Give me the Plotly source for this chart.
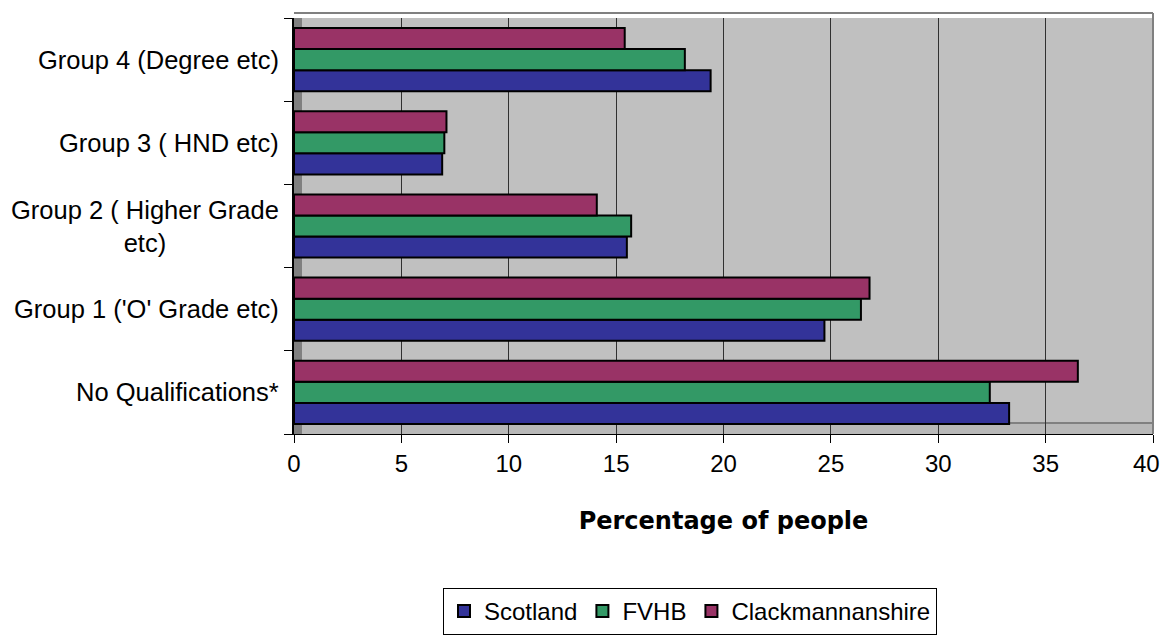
import plotly.graph_objects as go

categories = ["No Qualifications*", "Group 1 ('O' Grade etc)", "Group 2 ( Higher Grade<br>etc)",
              "Group 3 ( HND etc)", "Group 4 (Degree etc)"]
scotland = [33.3, 24.7, 15.5, 6.9, 19.4]
fvhb = [32.4, 26.4, 15.7, 7.0, 18.2]
clack = [36.5, 26.8, 14.1, 7.1, 15.4]
series_names = ["Scotland", "FVHB", "Clackmannanshire"]
series_colors = ["#333399", "#339966", "#993366"]
x_ticks = [0, 5, 10, 15, 20, 25, 30, 35, 40]

FONT = "Liberation Sans, Arial, sans-serif"
W, H = 1160, 627          # page body has an 8px default margin
L, R, T = 286, 15, 10
plot_h = 416
B = H - T - plot_h

fig = go.Figure()
for name, vals, col in zip(series_names, [scotland, fvhb, clack], series_colors):
    fig.add_trace(go.Bar(
        y=categories, x=vals, name=name, orientation="h",
        marker=dict(color=col, line=dict(color="black", width=2)),
    ))

# category labels as centred multi-line annotations
for cat in categories:
    fig.add_annotation(
        x=0, xref="paper", y=cat, yref="y", text=cat,
        xanchor="right", yanchor="middle", align="center",
        xshift=-13, showarrow=False,
        font=dict(family=FONT, size=25.5, color="black"),
    )

# pseudo-3D wall decoration (side wall, floor, wall edges)
floor_h = 11 / plot_h
fig.add_shape(type="rect", xref="paper", yref="paper", x0=0, x1=1, y0=0, y1=floor_h,
              fillcolor="#B8B8B8", line=dict(width=0), layer="between")
fig.add_shape(type="line", xref="paper", yref="paper", x0=0, x1=1, y0=floor_h, y1=floor_h,
              line=dict(color="#808080", width=2), layer="between")
fig.add_shape(type="rect", xref="paper", yref="paper", x0=0, x1=8 / (W - L - R), y0=0, y1=1,
              fillcolor="#808080", line=dict(width=0), layer="between")
fig.add_shape(type="line", xref="paper", yref="paper", x0=0, x1=1, y0=1.012, y1=1.012,
              line=dict(color="#808080", width=2), layer="below")
fig.add_shape(type="line", xref="paper", yref="paper", x0=1, x1=1, y0=0, y1=1.012,
              line=dict(color="#808080", width=2), layer="between")

# last tick label nudged left (non-breaking spaces) so it is not clipped at the edge
tick_text = [str(t) for t in x_ticks]
tick_text[-1] = tick_text[-1] + "\u00a0\u00a0"

fig.update_layout(
    width=W, height=H,
    margin=dict(l=L, r=R, t=T, b=B, autoexpand=False),
    barmode="group", bargap=0.24, bargroupgap=0.0,
    plot_bgcolor="#C0C0C0", paper_bgcolor="white",
    font=dict(family=FONT, size=24, color="black"),
    legend=dict(orientation="h", x=682 / W, xanchor="center", xref="container",
                y=(plot_h + T - 580) / plot_h, yanchor="top", yref="paper",
                bordercolor="black", borderwidth=1, bgcolor="white",
                font=dict(family=FONT, size=24, color="black"), traceorder="normal",
                itemwidth=30, tracegroupgap=0),
    showlegend=True,
)
fig.update_xaxes(
    range=[0, 40], tickvals=x_ticks, ticktext=tick_text,
    showgrid=True, gridcolor="#303030", gridwidth=1,
    showline=True, linecolor="black", linewidth=1,
    ticks="outside", ticklen=8, tickcolor="black",
    zeroline=False, automargin=False, ticklabeloverflow="allow",
    title=dict(text="<b>Percentage of people</b>", standoff=36,
               font=dict(family="DejaVu Sans, sans-serif", size=24, color="black")),
    tickfont=dict(family=FONT, size=24, color="black"),
)
fig.update_yaxes(
    showline=True, linecolor="black", linewidth=2,
    ticks="outside", ticklen=8, tickcolor="black", tickson="boundaries",
    showticklabels=False, showgrid=False, automargin=False,
)
fig.write_html("out.html")
